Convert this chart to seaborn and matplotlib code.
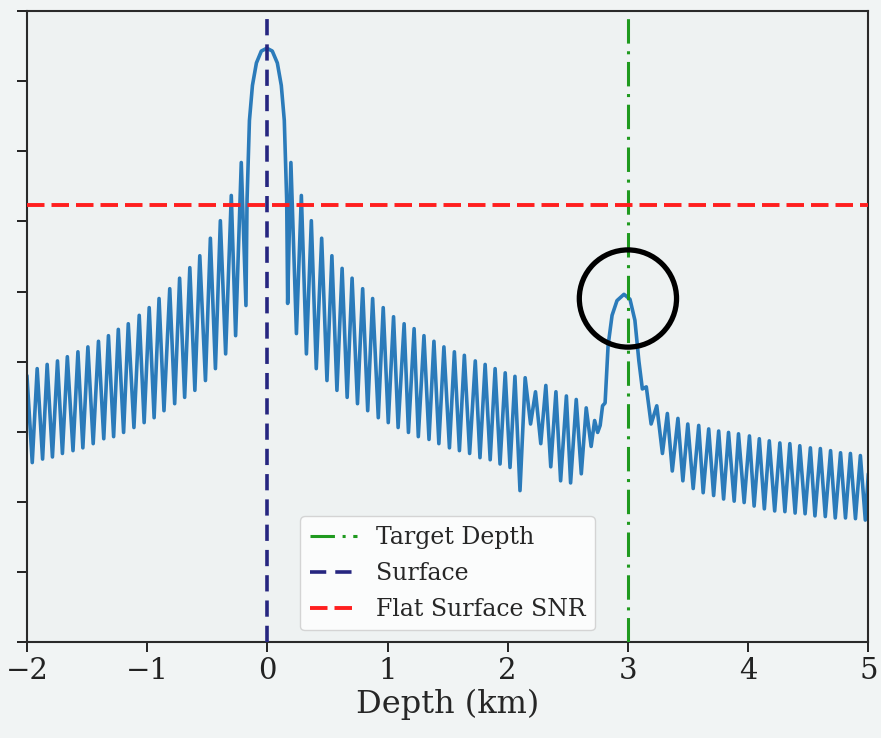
import numpy as np
import pandas as pd
import matplotlib
matplotlib.use('Agg')
import matplotlib.pyplot as plt
import seaborn as sns

# sidelobe nulls (depth km, SNR dB)
null_km = [-1.956, -1.870, -1.788, -1.705, -1.617, -1.535, -1.449, -1.361, -1.279, -1.196,
           -1.110, -1.025, -0.942, -0.860, -0.771, -0.688, -0.603, -0.515, -0.432, -0.347,
           -0.264, -0.178,
           0.169, 0.242, 0.325, 0.407, 0.496, 0.579, 0.664, 0.750, 0.835, 0.923,
           1.006, 1.088, 1.174, 1.256, 1.345, 1.427, 1.515, 1.598, 1.683, 1.769,
           1.854, 1.936, 2.019, 2.102, 2.190, 2.275, 2.358, 2.440, 2.523, 2.612,
           2.694, 2.748,
           3.193, 3.287, 3.369, 3.457, 3.543, 3.626, 3.713, 3.796, 3.884, 3.967,
           4.050, 4.135, 4.221, 4.306, 4.391, 4.474, 4.556, 4.642, 4.725, 4.810,
           4.893, 4.975]
null_db = [-64.4, -63.9, -63.6, -63.1, -62.7, -62.3, -61.7, -61.0, -60.7, -60.1,
           -59.4, -58.7, -58.0, -57.0, -56.0, -55.1, -54.1, -52.7, -51.0, -48.9,
           -46.3, -42.0,
           -41.7, -46.0, -48.9, -51.0, -52.7, -54.1, -55.1, -56.0, -57.0, -58.0,
           -58.7, -59.4, -60.1, -60.7, -61.1, -61.7, -62.3, -62.7, -63.1, -63.7,
           -64.0, -64.6, -65.1, -68.4, -58.9, -61.7, -65.0, -67.0, -67.3, -66.0,
           -62.1, -60.1,
           -58.9, -63.1, -65.6, -67.0, -68.1, -68.7, -69.1, -69.6, -69.9, -70.1,
           -70.6, -71.0, -71.3, -71.4, -71.6, -71.7, -72.0, -72.1, -72.3, -72.3,
           -72.4, -72.6]

# sidelobe peaks
peak_km = [-2.000, -1.915, -1.832, -1.746, -1.664, -1.576, -1.493, -1.405, -1.322, -1.240,
           -1.157, -1.066, -0.983, -0.901, -0.812, -0.730, -0.645, -0.562, -0.474, -0.391,
           -0.300, -0.217,
           0.196, 0.283, 0.366, 0.452, 0.537, 0.622, 0.705, 0.793, 0.876, 0.964,
           1.050, 1.138, 1.221, 1.303, 1.386, 1.469, 1.556, 1.639, 1.730, 1.812,
           1.895, 1.979, 2.060, 2.145, 2.231, 2.317, 2.401, 2.488, 2.570, 2.653,
           2.723,
           3.240, 3.328, 3.416, 3.498, 3.589, 3.672, 3.755, 3.837, 3.920, 4.011,
           4.093, 4.176, 4.264, 4.347, 4.430, 4.518, 4.601, 4.686, 4.769, 4.851,
           4.934, 5.000]
peak_db = [-52.0, -51.0, -50.4, -49.9, -49.3, -48.6, -47.9, -47.1, -46.3, -45.4,
           -44.6, -43.4, -42.3, -41.0, -39.6, -38.1, -36.6, -34.9, -32.4, -29.9,
           -26.3, -21.6,
           -21.6, -26.3, -29.9, -32.4, -34.9, -36.7, -38.1, -39.6, -41.0, -42.3,
           -43.6, -44.6, -45.3, -46.3, -47.1, -47.9, -48.6, -49.1, -49.9, -50.4,
           -51.0, -51.6, -52.1, -52.3, -54.3, -53.4, -54.3, -54.9, -55.4, -56.6,
           -58.4,
           -56.3, -57.4, -58.1, -58.9, -59.1, -59.6, -59.9, -60.1, -60.3, -60.6,
           -61.0, -61.3, -61.6, -61.7, -62.0, -62.3, -62.4, -62.7, -63.0, -63.1,
           -63.4, -66.0]

# main lobe at the surface
surf_km = [-0.169, -0.149, -0.124, -0.091, -0.050, -0.004, 0.041, 0.083, 0.116, 0.141, 0.161]
surf_db = [-27.0, -15.6, -10.6, -7.4, -5.7, -5.3, -5.7, -7.4, -10.6, -15.6, -27.0]

# lobe at the target
targ_km = [2.769, 2.789, 2.810, 2.835, 2.868, 2.909, 2.967, 3.017, 3.058, 3.091, 3.120, 3.153]
targ_db = [-59.1, -56.3, -55.9, -47.7, -43.4, -41.3, -40.4, -41.1, -44.1, -49.9, -53.9, -53.6]

target_depth = 3.0
surface_depth = 0.0
flat_snr = -27.6
circle_km, circle_db = 3.0, -41.0

df = pd.concat([
    pd.DataFrame({'depth': null_km, 'snr': null_db}),
    pd.DataFrame({'depth': peak_km, 'snr': peak_db}),
    pd.DataFrame({'depth': surf_km, 'snr': surf_db}),
    pd.DataFrame({'depth': targ_km, 'snr': targ_db}),
]).sort_values('depth').reset_index(drop=True)

sns.set_style('ticks')
plt.rcParams['font.family'] = ['DejaVu Serif']

fig = plt.figure(figsize=(8.81, 7.38), dpi=100, facecolor='#f1f4f4')
ax = fig.add_axes([0.0306, 0.130, 0.955, 0.855])
ax.set_facecolor('#eef2f2')

sns.lineplot(data=df, x='depth', y='snr', sort=False, estimator=None,
             color='#2b7bba', lw=2.6, ax=ax, zorder=2)
ax.lines[-1].set_solid_joinstyle('round')

ax.axvline(target_depth, color='#1f9a1f', ls=(0, (8, 2.5, 1, 2.5)), lw=2.2,
           label='Target Depth', zorder=3)
ax.axvline(surface_depth, color='#262680', ls=(0, (4.5, 2.5)), lw=2.6,
           label='Surface', zorder=3)
ax.axhline(flat_snr, color='#ff1f1f', ls=(0, (4.5, 1.8)), lw=2.8,
           label='Flat Surface SNR', zorder=3)
ax.scatter([circle_km], [circle_db], s=4900, facecolors='none',
           edgecolors='black', linewidths=3.8, zorder=5)

ax.set_xlim(-2, 5)
ax.set_ylim(-90, 0)
ax.set_xticks(range(-2, 6))
ax.set_yticks(np.arange(-90, 1, 10))
ax.set_yticklabels([])
ax.set_xlabel('Depth (km)', fontsize=23, labelpad=3)
ax.set_ylabel('')
ax.tick_params(axis='both', direction='out', length=7, width=1.4,
               labelsize=21, colors='#222222')
for s in ax.spines.values():
    s.set_visible(True)
    s.set_color('#2a2a2a')
    s.set_linewidth(1.5)

ax.legend(loc='lower center', fontsize=17, framealpha=0.8, handlelength=2.0,
          labelspacing=0.55, borderaxespad=0.5, edgecolor='#cccccc')

fig.savefig('out.png', dpi=100, facecolor=fig.get_facecolor())
